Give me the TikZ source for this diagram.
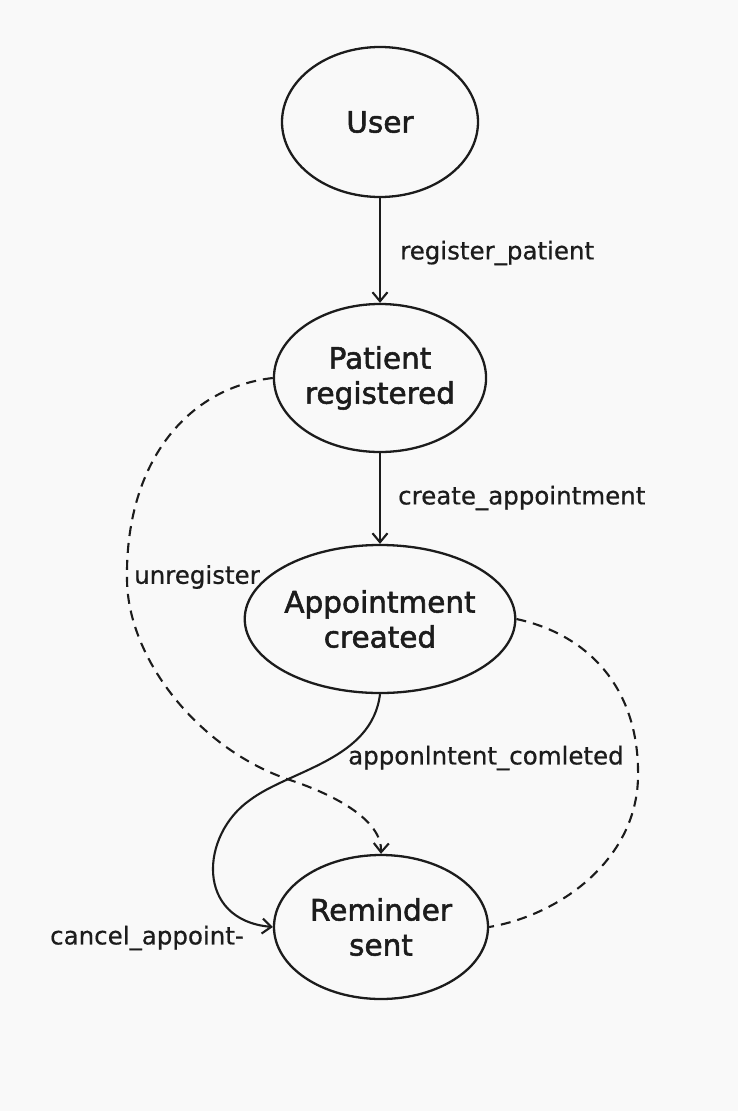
\documentclass[tikz,border=0pt]{standalone}
\usepackage{fontspec}
\setmainfont{DejaVu Sans}
\newfontfamily\statefont[FakeBold=1.8]{DejaVu Sans}
\newfontfamily\labelfont[FakeBold=0.6]{DejaVu Sans}
\usetikzlibrary{shapes.geometric,arrows.meta}
\definecolor{bg}{HTML}{F9F9F9}
\definecolor{ink}{HTML}{1C1C1C}
\begin{document}
\begin{tikzpicture}[x=1pt,y=-1pt,
  state/.style={ellipse,draw=ink,line width=2.3pt,inner sep=0pt,text=ink,align=center,
    font=\statefont\fontsize{29.5}{35}\selectfont},
  trans/.style={draw=ink,line width=2.1pt,-{Straight Barb[length=9pt,width=15pt,line width=2.1pt]}},
  dashtrans/.style={trans,dash pattern=on 10pt off 7pt},
  dashlink/.style={draw=ink,line width=2.1pt,dash pattern=on 10pt off 7pt},
  lbl/.style={anchor=west,text=ink,inner sep=0pt,font=\labelfont\fontsize{24.5}{29}\selectfont}]
\fill[bg] (0,0) rectangle (738,1111);
\useasboundingbox (0,0) rectangle (738,1111);

% states
\node[state,minimum width=196pt,minimum height=150pt] (user) at (380,122) {User};
\node[state,minimum width=210pt,minimum height=148pt] (pat) at (380,378) {Patient\\registered};
\node[state,minimum width=240pt,minimum height=148pt] (app) at (380,619) {Appointment\\created};
\node[state,minimum width=214pt,minimum height=144pt] (rem) at (381,927) {Reminder\\sent};

% straight transitions
\draw[trans] (user) -- (pat);
\draw[trans] (pat) -- (app);

% unregister loop on the left
\draw[dashtrans] (pat.west) .. controls (185,388) and (125,465) .. (127,580)
  .. controls (128,660) and (200,750) .. (290,780)
  .. controls (335,795) and (382,820) .. (rem.north);

% dashed link on the right
\draw[dashlink] (app.east) .. controls (590,635) and (640,690) .. (638,778)
  .. controls (636,860) and (560,915) .. (rem.east);

% S-shaped transition into the reminder
\draw[trans] (app.south) .. controls (372,760) and (290,770) .. (250,800)
  .. controls (200,835) and (195,920) .. (rem.west);

% transition labels
\node[lbl] (l1) at (400,253) {register\_patient};
\node[lbl] (l2) at (398,498) {create\_appointment};
\node[lbl] (l3) at (134,577) {unregister};
\node[lbl] (l4) at (348,758) {apponlntent\_comleted};
\node[lbl] (l5) at (50,938) {cancel\_appoint-};
\end{tikzpicture}
\end{document}
